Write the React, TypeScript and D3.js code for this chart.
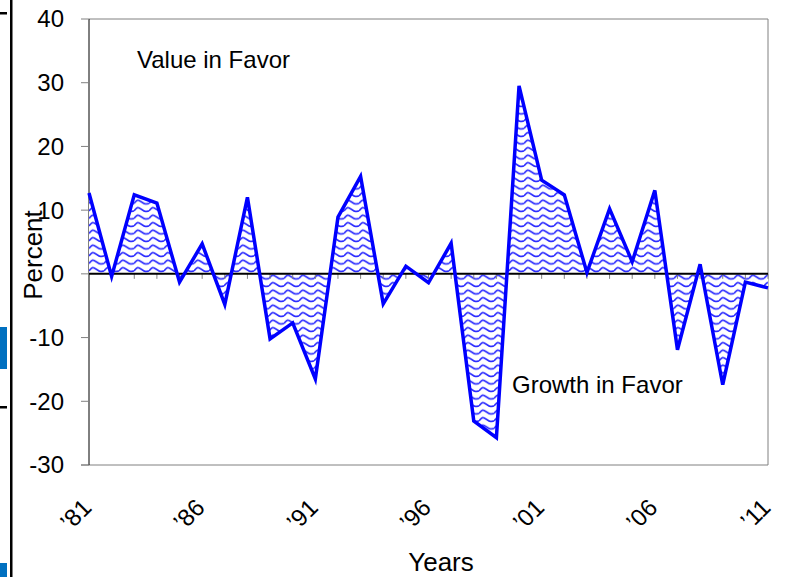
import React from 'react'
import * as d3 from 'd3'

// yearly values (percent)
const years = [
  1981, 1982, 1983, 1984, 1985, 1986, 1987, 1988, 1989, 1990,
  1991, 1992, 1993, 1994, 1995, 1996, 1997, 1998, 1999, 2000,
  2001, 2002, 2003, 2004, 2005, 2006, 2007, 2008, 2009, 2010, 2011,
]
const values = [
  12.7, -0.4, 12.4, 11.1, -1.3, 4.7, -4.8, 12.0, -10.2, -7.7,
  -16.5, 8.9, 15.3, -4.7, 1.2, -1.4, 4.8, -23.1, -25.7, 29.5,
  14.7, 12.4, 0.2, 10.2, 1.9, 13.1, -11.9, 1.5, -17.4, -1.3, -2.2,
]
const yTicks = [40, 30, 20, 10, 0, -10, -20, -30]
const xTickYears = [1981, 1986, 1991, 1996, 2001, 2006, 2011]
const xTickLabels = ['’81', '’86', '’91', '’96', '’01', '’06', '’11']

const W = 797
const H = 577
const left = 89
const right = 768
const top = 19
const bottom = 465
const font = '"Liberation Sans", Arial, sans-serif'

const App = () => {
  const x = d3.scaleLinear().domain([1981, 2011]).range([left, right])
  const y = d3.scaleLinear().domain([-30, 40]).range([bottom, top])

  const data = years.map((yr, i) => ({ yr, v: values[i] }))

  const area = d3.area<{ yr: number; v: number }>()
    .x(d => x(d.yr))
    .y0(y(0))
    .y1(d => y(d.v))
  const line = d3.line<{ yr: number; v: number }>()
    .x(d => x(d.yr))
    .y(d => y(d.v))

  return (
    <svg width={W} height={H} style={{ position: 'absolute', left: 0, top: 0, background: '#fff' }}>
      <defs>
        <pattern id="wave" patternUnits="userSpaceOnUse" width={15} height={7.5} x={left} y={y(0)}>
          <rect width={15} height={7.5} fill="#fff" />
          <path d="M0,4.5 C3.75,0.5 3.75,0.5 7.5,3 C11.25,5.5 11.25,5.5 15,4.5" fill="none" stroke="#2b2bff" strokeWidth={1.7} />
        </pattern>
      </defs>

      {/* stray slide edges on the left */}
      <rect x={10} y={0} width={2.5} height={H} fill="#000" />
      <rect x={0} y={12} width={7} height={2.5} fill="#000" />
      <rect x={0} y={406} width={7} height={2.5} fill="#000" />
      <rect x={0} y={327} width={7} height={42} fill="#0070c0" />
      <rect x={0} y={563} width={7} height={14} fill="#0070c0" />

      {/* plot frame */}
      <line x1={left} x2={right} y1={top} y2={top} stroke="#808080" />
      <line x1={right} x2={right} y1={top} y2={bottom} stroke="#808080" />
      <line x1={81} x2={right} y1={bottom} y2={bottom} stroke="#808080" />
      <line x1={left} x2={left} y1={top} y2={bottom} stroke="#000" />

      {/* y axis */}
      {yTicks.map(t => (
        <g key={t}>
          <line x1={81} x2={left} y1={y(t)} y2={y(t)} stroke="#808080" />
          <text x={64} y={y(t)} dy="0.35em" textAnchor="end" fontFamily={font} fontSize={24} fill="#000">
            {t}
          </text>
        </g>
      ))}

      {/* filled area */}
      <path d={area(data) ?? ''} fill="url(#wave)" stroke="none" />

      {/* minor ticks on zero line */}
      {years.map(yr => (
        <line key={yr} x1={x(yr)} x2={x(yr)} y1={y(0)} y2={y(0) + 5} stroke="#808080" />
      ))}
      <line x1={left} x2={right} y1={y(0)} y2={y(0)} stroke="#000" strokeWidth={2} />

      <path d={line(data) ?? ''} fill="none" stroke="#0000ff" strokeWidth={3.5} strokeLinejoin="miter" />

      {/* x tick labels */}
      {xTickYears.map((yr, i) => (
        <text
          key={yr}
          transform={`translate(${x(yr) + 4},${509}) rotate(-45)`}
          textAnchor="end"
          fontFamily={font}
          fontSize={24}
          fill="#000"
        >
          {xTickLabels[i]}
        </text>
      ))}

      <text x={137} y={68} fontFamily={font} fontSize={24} fill="#000">Value in Favor</text>
      <text x={512} y={393} fontFamily={font} fontSize={24} fill="#000">Growth in Favor</text>

      <text x={441} y={571} textAnchor="middle" fontFamily={font} fontSize={26} fill="#000">Years</text>
      <text transform={`translate(42,255) rotate(-90)`} textAnchor="middle" fontFamily={font} fontSize={26} fill="#000">
        Percent
      </text>
    </svg>
  )
}

export default App
